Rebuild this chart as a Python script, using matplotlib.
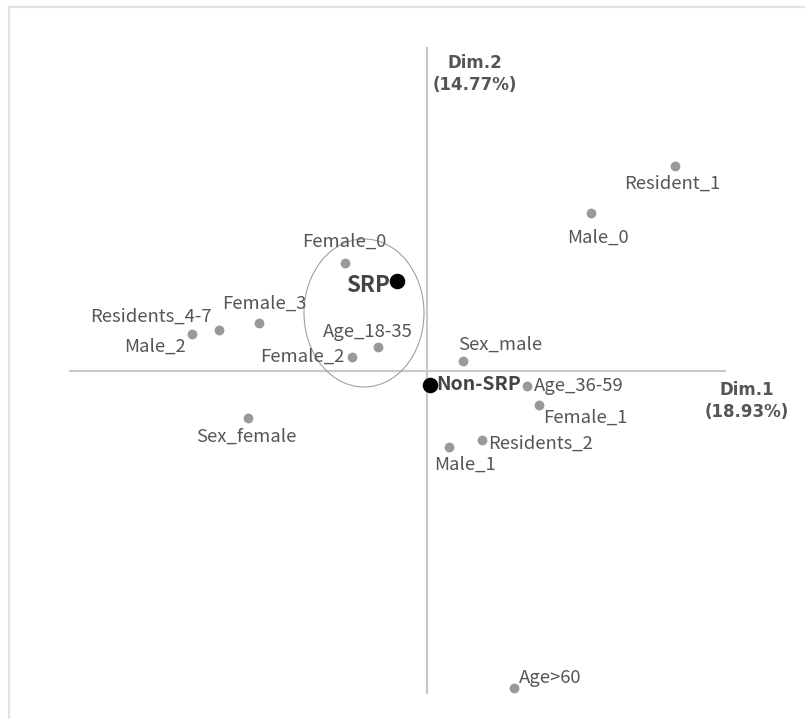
import matplotlib
matplotlib.use("Agg")
import matplotlib.pyplot as plt
from matplotlib.patches import Ellipse

# ---- data (MCA coordinates) ----
cat_labels = ["Resident_1", "Male_0", "Female_0", "Female_3", "Residents_4-7",
              "Male_2", "Age_18-35", "Female_2", "Sex_male", "Age_36-59",
              "Female_1", "Male_1", "Residents_2", "Sex_female", "Age>60"]
cat_x = [1.24, 0.82, -0.41, -0.84, -1.04, -1.175, -0.245, -0.375, 0.18, 0.50,
         0.56, 0.11, 0.275, -0.895, 0.435]
cat_y = [1.025, 0.79, 0.54, 0.24, 0.205, 0.185, 0.12, 0.07, 0.05, -0.075,
         -0.17, -0.38, -0.345, -0.235, -1.585]

group_labels = ["SRP", "Non-SRP"]
group_x = [-0.15, 0.015]
group_y = [0.45, -0.07]

dim1_label = "Dim.1\n(18.93%)"
dim2_label = "Dim.2\n(14.77%)"

# ---- styling: label offsets in pixels (dx, dy, ha) ----
cat_offsets = {
    "Resident_1": (-3, -18, "center"),
    "Male_0": (7, -25, "center"),
    "Female_0": (-1, 21, "center"),
    "Female_3": (5, 19, "center"),
    "Residents_4-7": (-68, 13, "center"),
    "Male_2": (-37, -13, "center"),
    "Age_18-35": (-10, 15, "center"),
    "Female_2": (-8, 0, "right"),
    "Sex_male": (-5, 16, "left"),
    "Age_36-59": (7, 0, "left"),
    "Female_1": (4, -13, "left"),
    "Male_1": (-15, -18, "left"),
    "Residents_2": (6, -4, "left"),
    "Sex_female": (-2, -19, "center"),
    "Age>60": (5, 10, "left"),
}
group_offsets = {"SRP": (-7, -4, "right"), "Non-SRP": (6, 0, "left")}

W, H = 805, 719
fig = plt.figure(figsize=(W / 100, H / 100), dpi=100)
ax = fig.add_axes([9 / W, 0, 1 - 9 / W, (H - 7) / H])
ax.set_xlim((9 - 427) / 200, (805 - 427) / 200)
ax.set_ylim((371 - 719) / 200, (371 - 7) / 200)
ax.set_xticks([])
ax.set_yticks([])
for s in ["right", "bottom"]:
    ax.spines[s].set_visible(False)
for s in ["top", "left"]:
    ax.spines[s].set_color("#e2e2e2")
    ax.spines[s].set_linewidth(1.6)

fam = ["Noto Sans CJK KR", "DejaVu Sans"]
txt_col = "#555555"

# axis lines
ax.plot([-1.785, 1.49], [0, 0], color="#c8c8c8", lw=1.5, zorder=1)
ax.plot([0, 0], [-1.61, 1.615], color="#c8c8c8", lw=1.5, zorder=1)

# ellipse around SRP cluster
ax.add_patch(Ellipse((-0.315, 0.29), 0.6, 0.74, fill=False,
                     edgecolor="#a0a0a0", lw=0.8, zorder=2))

ax.scatter(cat_x, cat_y, s=50, color="#999999", zorder=3, linewidths=0)
ax.scatter(group_x, group_y, s=125, color="black", zorder=4, linewidths=0)

for lab, x, y in zip(cat_labels, cat_x, cat_y):
    dx, dy, ha = cat_offsets[lab]
    ax.annotate(lab, (x, y), xytext=(dx, dy), textcoords="offset pixels",
                ha=ha, va="center", fontsize=13.3, color=txt_col, family=fam)

for lab, x, y in zip(group_labels, group_x, group_y):
    dx, dy, ha = group_offsets[lab]
    fs = 16 if lab == "SRP" else 14
    ax.annotate(lab, (x, y), xytext=(dx, dy), textcoords="offset pixels",
                ha=ha, va="center", fontsize=fs, color="#444444",
                fontweight="bold", family=fam)

nar = ["Liberation Sans Narrow", "DejaVu Sans"]
ax.annotate(dim2_label, (0, 1.615), xytext=(48, -26), textcoords="offset pixels",
            ha="center", va="center", fontsize=12, color=txt_col,
            fontweight="bold", family=nar, linespacing=1.35)
ax.annotate(dim1_label, (1.49, 0), xytext=(22, -30), textcoords="offset pixels",
            ha="center", va="center", fontsize=12, color=txt_col,
            fontweight="bold", family=nar, linespacing=1.35)

fig.savefig("out.png", dpi=100)
